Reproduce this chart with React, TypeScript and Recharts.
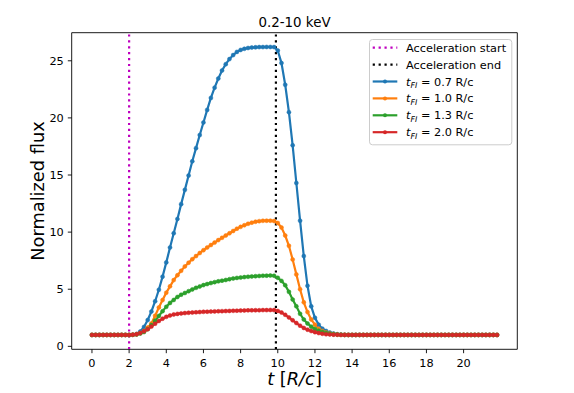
import React from 'react';
import { LineChart, Line, XAxis, YAxis, ReferenceLine, ReferenceArea, Legend } from 'recharts';

const T = [
  0, 0.2, 0.4, 0.6, 0.8, 1.0, 1.2, 1.4, 1.6, 1.8,
  2.0, 2.2, 2.4, 2.6, 2.8, 3.0, 3.2, 3.4, 3.6, 3.8,
  4.0, 4.2, 4.4, 4.6, 4.8, 5.0, 5.2, 5.4, 5.6, 5.8,
  6.0, 6.2, 6.4, 6.6, 6.8, 7.0, 7.2, 7.4, 7.6, 7.8,
  8.0, 8.2, 8.4, 8.6, 8.8, 9.0, 9.2, 9.4, 9.6, 9.8,
  10.0, 10.2, 10.4, 10.6, 10.8, 11.0, 11.2, 11.4, 11.6, 11.8,
  12.0, 12.2, 12.4, 12.6, 12.8, 13.0, 13.2, 13.4, 13.6, 13.8,
  14.0, 14.2, 14.4, 14.6, 14.8, 15.0, 15.2, 15.4, 15.6, 15.8,
  16.0, 16.2, 16.4, 16.6, 16.8, 17.0, 17.2, 17.4, 17.6, 17.8,
  18.0, 18.2, 18.4, 18.6, 18.8, 19.0, 19.2, 19.4, 19.6, 19.8,
  20.0, 20.2, 20.4, 20.6, 20.8, 21.0, 21.2, 21.4, 21.6, 21.8,
];

const FLUX_07 = [
  1, 1, 1, 1, 1, 1, 1, 1, 1, 1,
  1, 1.02, 1.08, 1.3, 1.7, 2.3, 3.05, 3.95, 4.95, 6.1,
  7.35, 8.65, 9.9, 11.15, 12.45, 13.7, 14.95, 16.2, 17.35, 18.5,
  19.6, 20.7, 21.75, 22.65, 23.45, 24.15, 24.7, 25.15, 25.5, 25.78,
  25.95, 26.05, 26.12, 26.16, 26.18, 26.2, 26.2, 26.21, 26.21, 26.2,
  25.9, 24.8, 22.9, 20.5, 17.6, 14.3, 11.0, 7.9, 5.3, 3.5,
  2.5, 1.9, 1.55, 1.35, 1.2, 1.12, 1.06, 1.03, 1.01, 1,
  1, 1, 1, 1, 1, 1, 1, 1, 1, 1,
  1, 1, 1, 1, 1, 1, 1, 1, 1, 1,
  1, 1, 1, 1, 1, 1, 1, 1, 1, 1,
  1, 1, 1, 1, 1, 1, 1, 1, 1, 1,
];

const FLUX_10 = [
  1, 1, 1, 1, 1, 1, 1, 1, 1, 1,
  1, 1.01, 1.05, 1.15, 1.35, 1.65, 2.0, 2.68, 3.4, 4.05,
  4.7, 5.25, 5.8, 6.23, 6.62, 7.0, 7.32, 7.63, 7.9, 8.17,
  8.42, 8.65, 8.87, 9.08, 9.3, 9.5, 9.7, 9.9, 10.1, 10.3,
  10.46, 10.6, 10.73, 10.83, 10.91, 10.96, 10.99, 11.0, 11.0, 10.97,
  10.8, 10.4, 9.7, 8.8, 7.6, 6.3, 5.0, 3.85, 3.0, 2.35,
  1.9, 1.55, 1.35, 1.22, 1.13, 1.07, 1.04, 1.02, 1.01, 1,
  1, 1, 1, 1, 1, 1, 1, 1, 1, 1,
  1, 1, 1, 1, 1, 1, 1, 1, 1, 1,
  1, 1, 1, 1, 1, 1, 1, 1, 1, 1,
  1, 1, 1, 1, 1, 1, 1, 1, 1, 1,
];

const FLUX_13 = [
  1, 1, 1, 1, 1, 1, 1, 1, 1, 1,
  1, 1.01, 1.04, 1.12, 1.25, 1.5, 1.87, 2.25, 2.66, 3.08,
  3.46, 3.8, 4.06, 4.32, 4.52, 4.67, 4.83, 4.98, 5.12, 5.24,
  5.36, 5.45, 5.54, 5.62, 5.69, 5.75, 5.81, 5.88, 5.94, 5.99,
  6.02, 6.06, 6.09, 6.12, 6.14, 6.16, 6.18, 6.19, 6.2, 6.18,
  6.0, 5.73, 5.35, 4.77, 4.1, 3.5, 2.85, 2.35, 2.0, 1.72,
  1.52, 1.37, 1.26, 1.17, 1.1, 1.06, 1.03, 1.01, 1, 1,
  1, 1, 1, 1, 1, 1, 1, 1, 1, 1,
  1, 1, 1, 1, 1, 1, 1, 1, 1, 1,
  1, 1, 1, 1, 1, 1, 1, 1, 1, 1,
  1, 1, 1, 1, 1, 1, 1, 1, 1, 1,
];

const FLUX_20 = [
  1, 1, 1, 1, 1, 1, 1, 1, 1, 1,
  1, 1.02, 1.06, 1.17, 1.32, 1.5, 1.73, 1.98, 2.22, 2.42,
  2.58, 2.7, 2.79, 2.84, 2.88, 2.91, 2.94, 2.96, 2.98, 3.0,
  3.02, 3.03, 3.04, 3.06, 3.07, 3.08, 3.09, 3.1, 3.11, 3.12,
  3.13, 3.14, 3.15, 3.15, 3.16, 3.16, 3.17, 3.17, 3.18, 3.17,
  3.1, 2.96, 2.76, 2.53, 2.28, 2.04, 1.81, 1.61, 1.46, 1.34,
  1.24, 1.16, 1.1, 1.06, 1.04, 1.02, 1.01, 1, 1, 1,
  1, 1, 1, 1, 1, 1, 1, 1, 1, 1,
  1, 1, 1, 1, 1, 1, 1, 1, 1, 1,
  1, 1, 1, 1, 1, 1, 1, 1, 1, 1,
  1, 1, 1, 1, 1, 1, 1, 1, 1, 1,
];

const X_TICKS = [0, 2, 4, 6, 8, 10, 12, 14, 16, 18, 20];
const Y_TICKS = [0, 5, 10, 15, 20, 25];
const X_DOMAIN: [number, number] = [-1.09, 22.89];
const Y_DOMAIN: [number, number] = [-0.26, 27.46];
const ACC_START = 2;
const ACC_END = 9.9;
const TITLE = '0.2-10 keV';
const Y_LABEL = 'Normalized flux';

const SERIES = [
  { key: 'f07', label: '0.7', color: '#1f77b4', values: FLUX_07 },
  { key: 'f10', label: '1.0', color: '#ff7f0e', values: FLUX_10 },
  { key: 'f13', label: '1.3', color: '#2ca02c', values: FLUX_13 },
  { key: 'f20', label: '2.0', color: '#d62728', values: FLUX_20 },
];

const FONT = 'DejaVu Sans';
const MAGENTA = '#bf00bf';
const SMALL = 11.3;

const data = T.map((t, i) => {
  const row: Record<string, number> = { t };
  SERIES.forEach((s) => {
    row[s.key] = s.values[i];
  });
  return row;
});

const renderLegend = () => {
  const rowY = (i: number) => 8.7 + i * 16.9;
  return (
    <svg width={144} height={107} style={{ display: 'block', overflow: 'visible' }}>
      <rect x={0.5} y={0.5} width={142.3} height={105.3} rx={3} ry={3} fill="rgba(255,255,255,0.8)" stroke="#cccccc" strokeWidth={1} />
      <line x1={3.7} x2={28.3} y1={rowY(0)} y2={rowY(0)} stroke={MAGENTA} strokeWidth={2.2} strokeDasharray="2.2 3.7" />
      <text x={37} y={rowY(0)} dy="0.36em" fontSize={SMALL} fontFamily={FONT} fill="#000">Acceleration start</text>
      <line x1={3.7} x2={28.3} y1={rowY(1)} y2={rowY(1)} stroke="#000" strokeWidth={2.2} strokeDasharray="2.2 3.7" />
      <text x={37} y={rowY(1)} dy="0.36em" fontSize={SMALL} fontFamily={FONT} fill="#000">Acceleration end</text>
      {SERIES.map((s, j) => {
        const y = rowY(j + 2);
        return (
          <g key={s.key}>
            <line x1={3.7} x2={28.3} y1={y} y2={y} stroke={s.color} strokeWidth={2.2} />
            <circle cx={16} cy={y} r={2} fill={s.color} />
            <text x={37} y={y} dy="0.36em" fontSize={SMALL} fontFamily={FONT} fill="#000">
              <tspan fontStyle="italic">t</tspan>
              <tspan fontStyle="italic" fontSize={7.9} dy={2.4}>FI</tspan>
              <tspan dy={-2.4}>{` = ${s.label} R/c`}</tspan>
            </text>
          </g>
        );
      })}
    </svg>
  );
};

const XLabel = (props: any) => {
  const vb = props.viewBox || { x: 71.7, y: 349.3, width: 445.6 };
  const cx = vb.x + vb.width / 2;
  return (
    <text x={cx} y={vb.y + 36} textAnchor="middle" fontSize={17.8} fontFamily={FONT} fill="#000">
      <tspan fontStyle="italic">t</tspan>
      <tspan>{' ['}</tspan>
      <tspan fontStyle="italic">R/c</tspan>
      <tspan>]</tspan>
    </text>
  );
};

const YLabel = (props: any) => {
  const vb = props.viewBox || { x: 0, y: 32.7, width: 71.7, height: 316.6 };
  const x = vb.x + 44;
  const y = vb.y + vb.height / 2;
  return (
    <text x={x} y={y} transform={`rotate(-90, ${x}, ${y})`} textAnchor="middle" fontSize={17.8} fontFamily={FONT} fill="#000">
      {Y_LABEL}
    </text>
  );
};

const TitleLabel = (props: any) => {
  const vb = props.viewBox || { x: 71.7, y: 32.7, width: 445.6 };
  return (
    <text x={vb.x + vb.width / 2} y={vb.y - 6} textAnchor="middle" fontSize={13.4} fontFamily={FONT} fill="#000">
      {TITLE}
    </text>
  );
};

export default function App() {
  return (
    <div style={{ position: 'absolute', left: 0, top: 0, width: 574, height: 393, background: '#fff' }}>
      <LineChart
        width={574}
        height={393}
        data={data}
        margin={{ top: 32.7, right: 56.7, bottom: 0, left: 0 }}
      >
        <XAxis
          dataKey="t"
          type="number"
          domain={X_DOMAIN}
          ticks={X_TICKS}
          allowDataOverflow
          height={43.7}
          axisLine={false}
          tickLine={{ stroke: '#000', strokeWidth: 0.9 }}
          tickSize={3.9}
          tickMargin={5.5}
          tick={{ fontSize: SMALL, fontFamily: FONT, fill: '#000' }}
          label={{ content: XLabel }}
        />
        <YAxis
          type="number"
          domain={Y_DOMAIN}
          ticks={Y_TICKS}
          allowDataOverflow
          width={71.7}
          axisLine={false}
          tickLine={{ stroke: '#000', strokeWidth: 0.9 }}
          tickSize={3.9}
          tickMargin={4}
          tick={{ fontSize: SMALL, fontFamily: FONT, fill: '#000' }}
          label={{ content: YLabel }}
        />
        <ReferenceLine x={ACC_START} stroke={MAGENTA} strokeWidth={2.2} strokeDasharray="2.2 3.7" ifOverflow="hidden" />
        <ReferenceLine x={ACC_END} stroke="#000" strokeWidth={2.2} strokeDasharray="2.2 3.7" ifOverflow="hidden" />
        {SERIES.map((s) => (
          <Line
            key={s.key}
            type="linear"
            dataKey={s.key}
            stroke={s.color}
            strokeWidth={2.2}
            dot={{ r: 2, fill: s.color, stroke: s.color, strokeWidth: 0.5 }}
            activeDot={false}
            isAnimationActive={false}
          />
        ))}
        <ReferenceArea
          x1={X_DOMAIN[0]}
          x2={X_DOMAIN[1]}
          y1={Y_DOMAIN[0]}
          y2={Y_DOMAIN[1]}
          fill="none"
          fillOpacity={0}
          stroke="#000"
          strokeWidth={0.9}
          label={{ content: TitleLabel }}
        />
        <Legend
          layout="horizontal"
          verticalAlign="middle"
          align="center"
          content={renderLegend}
          wrapperStyle={{ position: 'absolute', left: 369, top: 39, width: 144, height: 107 }}
        />
      </LineChart>
    </div>
  );
}
